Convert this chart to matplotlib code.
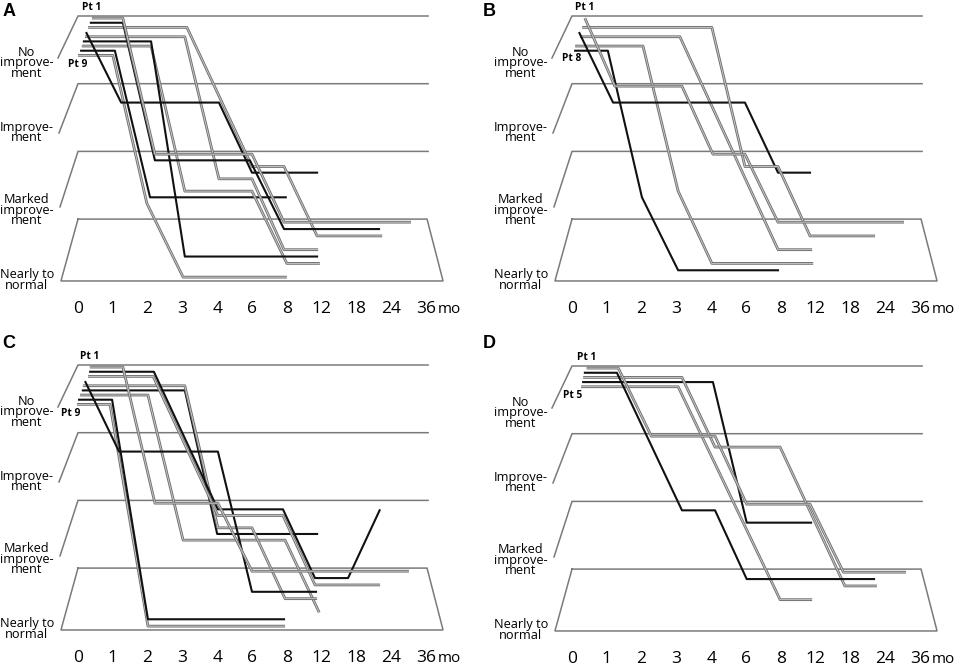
import matplotlib.pyplot as plt

# time axis (categorical positions) and outcome levels
months = ['0', '1', '2', '3', '4', '6', '8', '12', '18', '24', '36']
levels = ['No\nimprove-\nment', 'Improve-\nment', 'Marked\nimprove-\nment', 'Nearly to\nnormal']

# patient courses: position on time axis, level reached (0 = no improvement ... 3 = nearly normal)
A_t = [[0.40, 1.29, 2.21, 5.00, 5.92, 9.57],
       [0.34, 1.29, 2.21, 4.94, 5.92, 8.68],
       [0.29, 3.13, 5.00, 5.92, 6.87, 8.74],
       [0.23, 1.24, 4.05, 5.00, 6.90],
       [0.20, 3.07, 4.05, 5.00, 5.92, 6.90],
       [0.14, 2.10, 3.07, 6.90],
       [0.11, 2.10, 3.07, 5.00, 6.00, 6.95],
       [0.06, 1.06, 2.07, 6.00],
       [0.00, 1.00, 1.98, 3.02, 6.00]]
A_lv = [[0, 0, 2, 2, 3, 3], [0, 0, 2, 2, 3, 3], [0, 0, 2, 2, 3, 3], [0, 1, 1, 2, 2],
        [0, 0, 2, 2, 3, 3], [0, 0, 3, 3], [0, 0, 2, 2, 3, 3], [0, 0, 2, 2], [0, 0, 2, 3, 3]]
A_black = [0, 1, 0, 1, 0, 1, 0, 1, 0]
A_slot = [0, 1, 2, 3, 4, 5, 6, 7, 8]

B_t = [[0.37, 1.23, 3.16, 4.05, 4.97, 5.92, 9.54],
       [0.29, 4.02, 4.97, 5.92, 6.84, 8.71],
       [0.20, 1.18, 4.97, 5.92, 6.87],
       [0.23, 3.10, 5.92, 6.90],
       [0.09, 2.04, 3.05, 4.02, 6.93],
       [0.06, 1.03, 2.01, 3.05, 5.95]]
B_lv = [[0, 1, 1, 2, 2, 3, 3], [0, 0, 2, 2, 3, 3], [0, 1, 1, 2, 2], [0, 0, 3, 3],
        [0, 0, 2, 3, 3], [0, 0, 2, 3, 3]]
B_black = [0, 0, 1, 0, 0, 1]
B_slot = [0, 2, 3, 4, 6, 7]

C_t = [[0.34, 1.29, 2.21, 4.02, 5.00, 9.51],
       [0.32, 2.18, 4.02, 5.89, 6.81, 7.76, 8.68],
       [0.29, 2.16, 4.02, 5.89, 6.81, 8.68],
       [0.20, 1.18, 4.02, 5.00, 6.87],
       [0.14, 3.07, 4.02, 5.00, 5.95, 6.87],
       [0.11, 3.07, 4.00, 6.90],
       [0.06, 2.01, 3.02, 5.95, 6.93],
       [0.00, 0.98, 2.01, 5.95],
       [-0.03, 0.92, 2.01, 5.95]]
C_lv = [[0, 0, 2, 2, 3, 3], [0, 0, 2, 2, 3, 3, 2], [0, 0, 2, 2, 3, 3], [0, 1, 1, 3, 3],
        [0, 0, 2, 2, 3, 3], [0, 0, 2, 2], [0, 0, 2, 2, 3], [0, 0, 3, 3], [0, 0, 3, 3]]
C_black = [0, 1, 0, 1, 0, 1, 0, 1, 0]
C_slot = [0, 1, 2, 3, 4, 5, 6, 7, 8]

D_t = [[0.42, 1.33, 2.28, 4.11, 5.02, 6.84, 7.80, 9.60],
       [0.34, 1.29, 3.16, 4.11, 5.02, 8.71],
       [0.32, 3.16, 4.11, 5.98, 7.84, 8.76],
       [0.29, 4.05, 5.02, 6.90],
       [0.26, 3.05, 5.98, 6.90]]
D_lv = [[0, 0, 1, 1, 2, 2, 3, 3], [0, 0, 2, 2, 3, 3], [0, 0, 1, 1, 3, 3], [0, 0, 2, 2],
        [0, 0, 3, 3]]
D_black = [0, 1, 0, 1, 0]
D_slot = [0, 1, 2, 3, 4]

W, H = 957, 666
SX, SY = 34.8, 67.7
band_h = [0.62, 0.728, 0.82, 0.914]
slant = [-0.575, -0.546, -0.517, -0.49]
band_c = '#7a7a7a'
lab_font = 'Open Sans'

fig = plt.figure(figsize=(W / 100, H / 100), dpi=100)


def depth_y(lv, slot):
    return lv + (0.05 + 0.111 * slot) * band_h[lv]


def panel(rect, origin, letter, times, lvls, black, slots, last_name, last_pos):
    px, py, pw, ph = rect
    ox, oy = origin
    ax = fig.add_axes([px / W, 1 - (py + ph) / H, pw / W, ph / H])
    ax.set_xlim((px - ox) / SX, (px + pw - ox) / SX)
    ax.set_ylim((py + ph - oy) / SY, (py - oy) / SY)
    ax.axis('off')

    # the level "planes"
    for L in range(3):
        ax.plot([slant[L], 0, 10.06], [L + band_h[L], L, L], color=band_c, lw=1.1,
                solid_joinstyle='miter')
    ax.plot([0, 10.03, 10.49, slant[3], 0], [3, 3, 3 + band_h[3], 3 + band_h[3], 3],
            color=band_c, lw=1.1, solid_joinstyle='miter')

    for L, name in enumerate(levels):
        yc = [0.694, 1.72, 2.866, 3.90][L]
        ax.text(-1.47, yc, name, ha='center', va='center', fontsize=9.2,
                family=lab_font, linespacing=0.74)

    for i, m in enumerate(months):
        ax.text(i, 4.39, m, ha='center', va='baseline', fontsize=12.5, family=lab_font)
    ax.text(10.33, 4.39, 'mo', ha='left', va='baseline', fontsize=11, family=lab_font)

    # patient courses, deepest first
    for t, l, b, s in reversed(list(zip(times, lvls, black, slots))):
        y = [depth_y(v, s) for v in l]
        if b:
            ax.plot(t, y, color='#111111', lw=1.5, solid_capstyle='butt')
        else:
            ax.plot(t, y, color='#747474', lw=2.0, solid_capstyle='butt')
            ax.plot(t, y, color='#d6d6d6', lw=0.55, solid_capstyle='butt')

    ax.text(times[0][0], depth_y(0, slots[0]) - 0.16, 'Pt 1', ha='center', va='center',
            fontsize=7.3, fontweight='bold', family=lab_font)
    ax.text(last_pos[0], last_pos[1], last_name, ha='center', va='center',
            fontsize=7.3, fontweight='bold', family=lab_font)

    fig.text((px + 9) / W, 1 - (py + 11) / H, letter, ha='center', va='center',
             fontsize=13, fontweight='bold', family='Liberation Sans')


panel((0, 0, 480, 333), (78, 16), 'A', A_t, A_lv, A_black, A_slot, 'Pt 9', (-0.01, 0.71))
panel((480, 0, 477, 333), (572, 16), 'B', B_t, B_lv, B_black, B_slot, 'Pt 8', (0.0, 0.635))
panel((0, 333, 480, 333), (78, 365), 'C', C_t, C_lv, C_black, C_slot, 'Pt 9', (-0.2, 0.71))
panel((480, 333, 477, 333), (572, 366), 'D', D_t, D_lv, D_black, D_slot, 'Pt 5', (0.03, 0.43))

fig.savefig('out.png', dpi=100)
